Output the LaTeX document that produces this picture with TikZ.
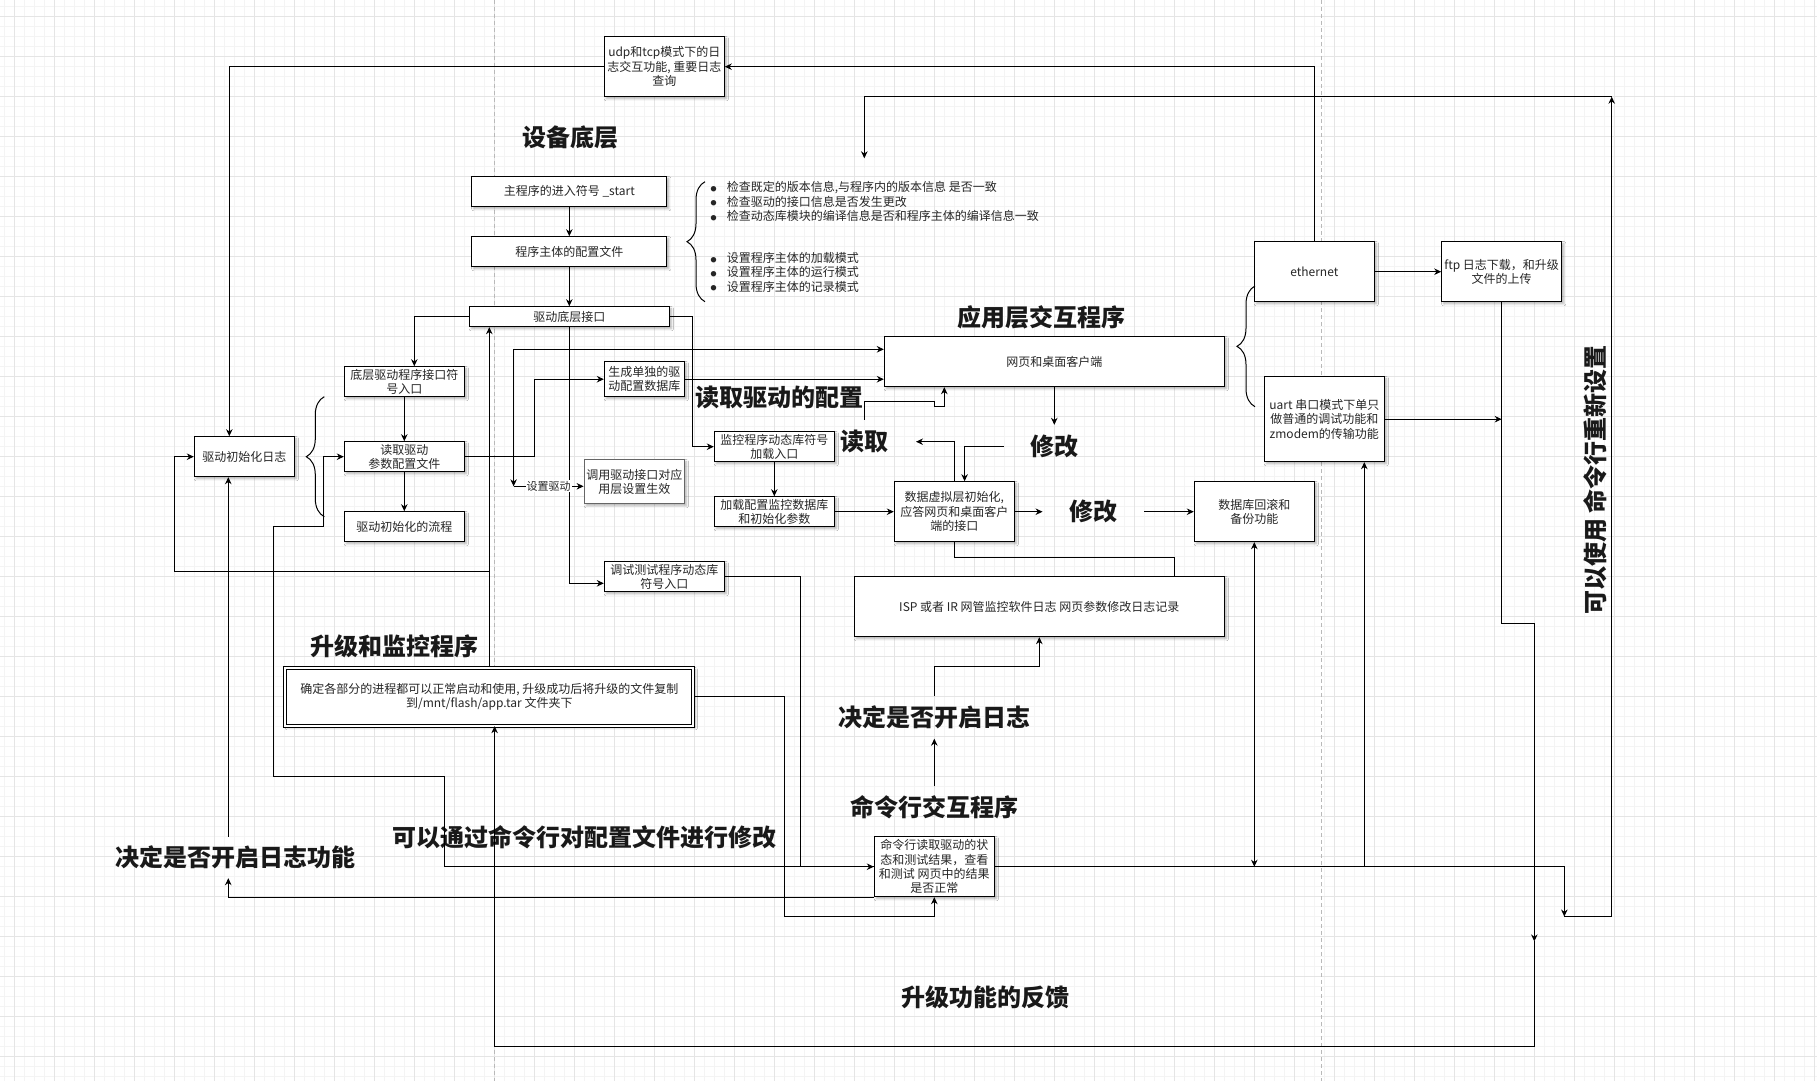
\documentclass[tikz,border=0pt]{standalone}
\usepackage{fontspec}
\setmainfont{Noto Sans CJK SC}
\usetikzlibrary{arrows.meta,decorations.pathreplacing,shadows.blur}
\newcommand{\bulmark}{\makebox[6.6pt][c]{\raisebox{0.5pt}{\fontsize{6}{6}\selectfont ●}}\hspace{10.1pt}}
\begin{document}
\begin{tikzpicture}[x=1pt,y=-1pt,
  box/.style={draw=black, line width=1pt, fill=white, align=center, inner sep=1pt,
    font=\fontsize{12}{14.3}\selectfont, text=black!85,
    blur shadow={shadow xshift=2pt, shadow yshift=-2pt, shadow opacity=30, shadow blur steps=4}},
  lbl/.style={align=center, inner sep=0pt, font=\fontsize{24}{28}\selectfont\bfseries, text=black!90},
  elbl/.style={fill=white, inner sep=1pt, font=\fontsize{11}{13}\selectfont, text=black!85},
  bultext/.style={align=left, inner sep=0pt, anchor=west, font=\fontsize{12}{14.3}\selectfont, text=black!85},
  conn/.style={draw=black, line width=1pt, -{Stealth[length=7pt,width=6.5pt]}},
  dconn/.style={draw=black, line width=1pt, {Stealth[length=7pt,width=6.5pt]}-{Stealth[length=7pt,width=6.5pt]}},
  plain/.style={draw=black, line width=1pt},
  curly/.style={decorate, decoration={brace, amplitude=18pt}, line width=1pt, draw=black},
  gminor/.style={draw=gray!9, line width=0.6pt},
  gmajor/.style={draw=gray!20, line width=0.8pt},
  pagebreak/.style={draw=gray!55, line width=0.7pt, dash pattern=on 4pt off 3pt}]
\useasboundingbox (0,0) rectangle (1817,1081);
\fill[white] (0,0) rectangle (1817,1081);
\foreach \i in {0,...,181} \draw[gminor] (4.3+10*\i,0) -- (4.3+10*\i,1081);
\foreach \j in {0,...,107} \draw[gminor] (0,6.7+10*\j) -- (1817,6.7+10*\j);
\foreach \i in {0,...,45} \draw[gmajor] (14.3+40*\i,0) -- (14.3+40*\i,1081);
\foreach \j in {0,...,26} \draw[gmajor] (0,16.7+40*\j) -- (1817,16.7+40*\j);
\draw[pagebreak] (494.3,0) -- (494.3,1081);
\draw[pagebreak] (1321.7,0) -- (1321.7,1081);

% ---------- boxes ----------
\node[box, minimum width=120, minimum height=60] (udp) at (664.3,66.7) {udp和tcp模式下的日\\志交互功能, 重要日志\\查询};
\node[box, minimum width=195, minimum height=30] (start) at (569.3,191.7) {主程序的进入符号 \_start};
\node[box, minimum width=195, minimum height=30] (config) at (569.3,251.7) {程序主体的配置文件};
\node[box, minimum width=200, minimum height=20] (driverif) at (569.3,316.7) {驱动底层接口};
\node[box, minimum width=120, minimum height=30] (lowentry) at (404.3,381.7) {底层驱动程序接口符\\号入口};
\node[box, minimum width=120, minimum height=30] (readcfg) at (404.3,456.7) {读取驱动\\参数配置文件};
\node[box, minimum width=120, minimum height=30] (initflow) at (404.3,526.7) {驱动初始化的流程};
\node[box, minimum width=100, minimum height=40] (initlog) at (244.3,456.7) {驱动初始化日志};
\node[box, minimum width=80, minimum height=35] (gendb) at (644.3,379.2) {生成单独的驱\\动配置数据库};
\node[box, draw=black!60, line width=1.4pt, minimum width=100, minimum height=44] (callif) at (634.3,481.7) {调用驱动接口对应\\用层设置生效};
\node[box, minimum width=120, minimum height=30] (debugentry) at (664.3,576.7) {调试测试程序动态库\\符号入口};
\node[box, minimum width=120, minimum height=30] (monitor) at (774.3,446.7) {监控程序动态库符号\\加载入口};
\node[box, minimum width=120, minimum height=30] (loaddb) at (774.3,511.7) {加载配置监控数据库\\和初始化参数};
\node[box, minimum width=340, minimum height=50] (web) at (1054.3,361.7) {网页和桌面客户端};
\node[box, minimum width=120, minimum height=60] (virt) at (954.3,511.7) {数据虚拟层初始化,\\应答网页和桌面客户\\端的接口};
\node[box, minimum width=120, minimum height=60] (dbbackup) at (1254.3,511.7) {数据库回滚和\\备份功能};
\node[box, minimum width=370, minimum height=60] (isp) at (1039.3,606.7) {ISP 或者 IR 网管监控软件日志 网页参数修改日志记录};
\node[box, minimum width=120, minimum height=60] (eth) at (1314.3,271.7) {ethernet};
\node[box, minimum width=120, minimum height=60] (ftp) at (1501.7,271.7) {ftp 日志下载，和升级\\文件的上传};
\node[box, minimum width=120, minimum height=85] (uart) at (1324.3,419.2) {uart 串口模式下单只\\做普通的调试功能和\\zmodem的传输功能};
\node[box, double, double distance=2pt, minimum width=408, minimum height=58] (upgrade) at (489.3,696.7) {确定各部分的进程都可以正常启动和使用, 升级成功后将升级的文件复制\\到/mnt/flash/app.tar 文件夹下};
\node[box, minimum width=120, minimum height=60] (cmd) at (934.3,866.7) {命令行读取驱动的状\\态和测试结果，查看\\和测试 网页中的结果\\是否正常};

% ---------- bullet list ----------
\node[bultext] (bul1) at (710,201.7) {\bulmark 检查既定的版本信息,与程序内的版本信息 是否一致\\
\bulmark 检查驱动的接口信息是否发生更改\\
\bulmark 检查动态库模块的编译信息是否和程序主体的编译信息一致};
\node[bultext] (bul2) at (710,272.3) {\bulmark 设置程序主体的加载模式\\
\bulmark 设置程序主体的运行模式\\
\bulmark 设置程序主体的记录模式};

% ---------- braces ----------
\draw[curly] (705,301.7) -- (705,181.7);
\draw[curly] (324.3,516.7) -- (324.3,396.7);
\draw[curly] (1255,406.7) -- (1255,286);

% ---------- bold labels ----------
\node[lbl] (tdev) at (570,137) {设备底层};
\node[lbl] (tapp) at (1041.6,317.5) {应用层交互程序};
\node[lbl] (treadcfg) at (779,397.5) {读取驱动的配置};
\node[lbl, minimum width=103, minimum height=43.4] (rd) at (864.3,441.7) {读取};
\node[lbl, minimum width=100, minimum height=42] (mod1) at (1054.3,446) {修改};
\node[lbl, minimum width=101.5] (mod2) at (1093.5,511.7) {修改};
\node[lbl] (tupg) at (394.5,646) {升级和监控程序};
\node[lbl, minimum height=42] (logdec) at (934.3,717.5) {决定是否开启日志};
\node[lbl, minimum height=42] (cmdlbl) at (934.3,807.5) {命令行交互程序};
\node[lbl, minimum height=41] (logfunc) at (235,857.5) {决定是否开启日志功能};
\node[lbl] (tcfgmod) at (584,837.5) {可以通过命令行对配置文件进行修改};
\node[lbl] (tfeed) at (985,997.5) {升级功能的反馈};
\node[lbl, rotate=90] (tcmdset) at (1595,480) {可以使用 命令行重新设置};

% ---------- helper coordinates ----------
\coordinate (sd) at (513.6,486.3);
\coordinate (fb1) at (1534.3,941.4);
\coordinate (c1) at (1564.3,916.5);
\coordinate (c2) at (1611.7,96.7);
\coordinate (c3) at (864.3,158.3);
\coordinate (u1) at ([xshift=40pt]uart.south);

% ---------- connectors ----------
\draw[conn] (eth.north) |- (udp.east);
\draw[conn] (udp.west) -| ([xshift=-15pt]initlog.north);
\draw[conn] (start) -- (config);
\draw[conn] (config) -- (driverif);
\draw[conn] (driverif.west) -| ([xshift=10pt]lowentry.north);
\draw[conn] (lowentry) -- (readcfg);
\draw[conn] (readcfg) -- (initflow);
\draw[conn] (driverif.east) -- ++(22.5,0) |- (monitor.west);
\draw[conn] (driverif.south) |- ([yshift=-6.6pt]debugentry.west);
\draw[conn] (readcfg.east) -- ++(70,0) |- (gendb.west);
\draw[conn] (gendb.east) -- (gendb.east -| web.west);
\draw[dconn] (sd) |- ([yshift=12.4pt]web.west);
\draw[conn] (sd) -- node[elbl] {设置驱动} (sd -| callif.west);
\draw[conn] (monitor) -- (loaddb);
\draw[conn] (loaddb) -- (virt);
\draw[conn] (virt.east) -- (mod2.west);
\draw[conn] (mod2.east) -- (dbbackup.west);
\draw[conn] (web.south) -- (mod1.north);
\draw[conn] (mod1.west) -| ([xshift=10.3pt]virt.north);
\draw[conn] (virt.north) |- (rd.east);
\draw[conn] (rd.north) -- ++(0,-18.3) -- ++(70,0) -- ++(0,5) -- ++(10,0) -- ([xshift=-110pt]web.south);
\draw[plain] (virt.south) -- ++(0,15) -| ([xshift=135pt]isp.north);
\draw[conn] (cmdlbl.north) -- (logdec.south);
\draw[conn] (logdec.north) -- ++(0,-30) -| (isp.south);
\draw[conn] (upgrade.east) -- ++(90.3,0) -- ++(0,220) -| (cmd.south);
\draw[conn] (debugentry.east) -- ++(75.4,0) |- (cmd.west);
\draw[conn] (cmd.west) -- ++(-429.7,0) -- ++(0,-90) -- ++(-170.3,0) -- ++(0,-250) -- ++(50,0) |- (readcfg.west);
\draw[conn] (cmd.south west) -| ([xshift=-6.7pt]logfunc.south);
\draw[conn] ([xshift=-6.7pt]logfunc.north) -- ([xshift=-16pt]initlog.south);
\draw[conn] (upgrade.north) -- ([xshift=-80pt]driverif.south);
\draw[conn] (upgrade.north) -- ++(0,-95.7) -- ++(-315,0) |- (initlog.west);
\draw[conn] (ftp.south) -- ++(0,321.6) -| (fb1);
\draw[conn] (fb1) -- ++(0,104.8) -| ([xshift=5.3pt]upgrade.south);
\draw[conn] (uart.east) -- (uart.east -| ftp.south);
\draw[conn] (eth.east) -- (ftp.west);
\draw[conn] (cmd.east) -| (c1);
\draw[conn] (c1) -| (c2);
\draw[conn] (c2) -| (c3);
\draw[dconn] (dbbackup.south) -- (dbbackup.south |- cmd.east);
\draw[conn] (u1 |- cmd.east) -- (u1);
\end{tikzpicture}
\end{document}
